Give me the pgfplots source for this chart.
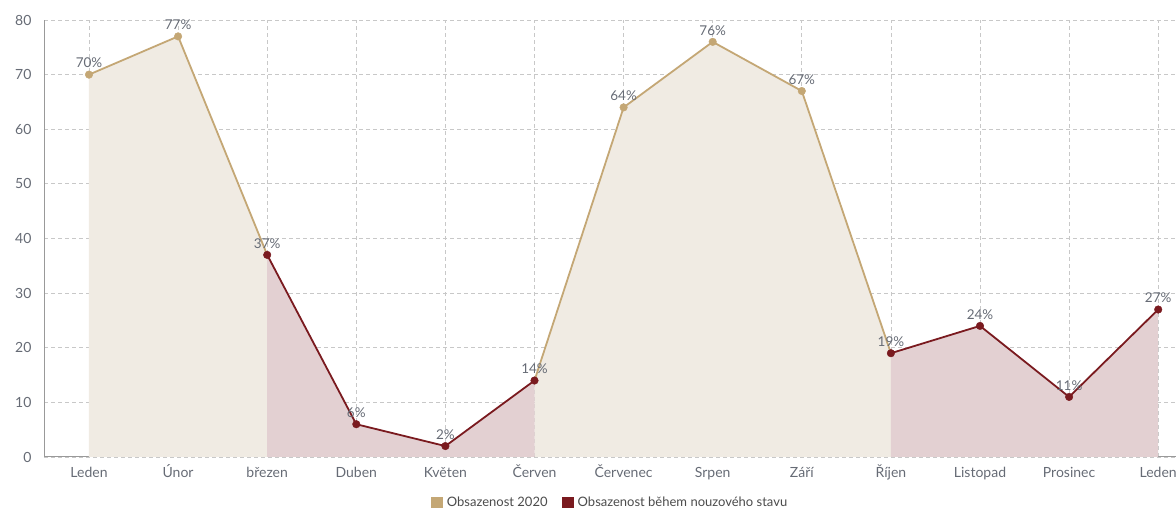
\documentclass[border=0pt]{standalone}
\usepackage{fontspec}
\setmainfont{Lato}
\usepackage{pgfplots}
\pgfplotsset{compat=1.18}
\definecolor{tanline}{HTML}{C4A775}
\definecolor{tanfill}{HTML}{F0EBE3}
\definecolor{redline}{HTML}{7A1A1F}
\definecolor{redfill}{HTML}{E3D0D2}
\definecolor{gridc}{HTML}{C8C8C8}
\definecolor{txt}{HTML}{666B75}
\begin{document}
\begin{tikzpicture}
\useasboundingbox (0,0) rectangle (1176pt,508pt);
\begin{axis}[
  at={(44pt,51pt)}, anchor=south west,
  scale only axis, width=1132pt, height=437pt,
  xmin=-0.505, xmax=12.2, ymin=0, ymax=80,
  axis lines*=left,
  axis line style={draw=gray!80, line width=1pt, -},
  xtick={0,...,12},
  xticklabels={Leden,Únor,březen,Duben,Květen,Červen,Červenec,Srpen,Září,Říjen,Listopad,Prosinec,Leden},
  ytick={0,10,...,80},
  major tick length=0pt,
  grid=major,
  major grid style={gridc, dash pattern=on 4pt off 3pt, line width=0.8pt},
  tick label style={font=\fontsize{14}{16}\selectfont, text=txt},
  /pgf/number format/assume math mode=true,
  yticklabel style={xshift=-9pt},
  xticklabel style={yshift=-6pt, text height=11pt, text depth=3pt},
  clip=false,
  every node near coord/.append style={font=\fontsize{13.5}{15}\selectfont, text=txt, yshift=3pt},
  nodes near coords={\pgfmathprintnumber{\pgfplotspointmeta}\%},
  legend style={at={(axis description cs:0.5,-0.105)}, anchor=center, draw=none, legend columns=2,
    font=\fontsize{13}{15}\selectfont, text=black!70, /tikz/every even column/.append style={column sep=12pt}},
  legend image code/.code={\fill[#1, draw=none] (0pt,-6pt) rectangle (12pt,6pt); \path[draw=none, fill=none] (14pt,0pt) circle (0.1pt);},
]
% fills
\addplot[draw=none, fill=tanfill, forget plot, nodes near coords={}] coordinates {(0,70)(1,77)(2,37)} \closedcycle;
\addplot[draw=none, fill=tanfill, forget plot, nodes near coords={}] coordinates {(5,14)(6,64)(7,76)(8,67)(9,19)} \closedcycle;
\addplot[draw=none, fill=redfill, forget plot, nodes near coords={}] coordinates {(2,37)(3,6)(4,2)(5,14)} \closedcycle;
\addplot[draw=none, fill=redfill, forget plot, nodes near coords={}] coordinates {(9,19)(10,24)(11,11)(12,27)} \closedcycle;
% lines
\addplot[tanline, line width=1.8pt, forget plot, nodes near coords={}] coordinates {(0,70)(1,77)(2,37)};
\addplot[tanline, line width=1.8pt, forget plot, nodes near coords={}] coordinates {(5,14)(6,64)(7,76)(8,67)(9,19)};
\addplot[redline, line width=1.8pt, forget plot, nodes near coords={}] coordinates {(2,37)(3,6)(4,2)(5,14)};
\addplot[redline, line width=1.8pt, forget plot, nodes near coords={}] coordinates {(9,19)(10,24)(11,11)(12,27)};
% markers with labels
\addplot[only marks, mark=*, mark size=3.8pt, tanline, forget plot] coordinates {(0,70)(1,77)(6,64)(7,76)(8,67)};
\addplot[only marks, mark=*, mark size=3.8pt, redline, forget plot] coordinates {(2,37)(3,6)(4,2)(5,14)(9,19)(10,24)(11,11)(12,27)};
\addlegendimage{fill=tanline}
\addlegendentry{Obsazenost 2020}
\addlegendimage{fill=redline}
\addlegendentry{Obsazenost během nouzového stavu}
\end{axis}
\end{tikzpicture}
\end{document}
